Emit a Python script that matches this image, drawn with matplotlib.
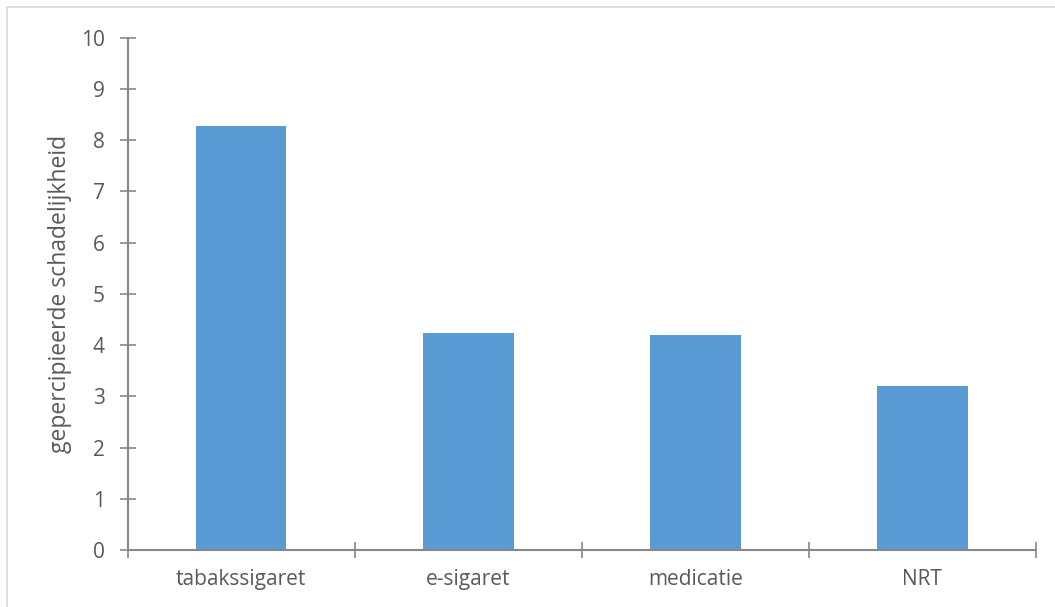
import matplotlib.pyplot as plt
from matplotlib.patches import Rectangle

categories = ['tabakssigaret', 'e-sigaret', 'medicatie', 'NRT']
values = [8.28, 4.23, 4.19, 3.21]
yticks = [0, 1, 2, 3, 4, 5, 6, 7, 8, 9, 10]

BAR = '#5b9bd5'
AXIS = '#878787'
TEXT = '#595959'

plt.rcParams['font.family'] = 'Open Sans'

fig = plt.figure(figsize=(10.55, 6.07), dpi=100)
ax = fig.add_axes([127.5 / 1055, 1 - 550 / 607, (1036 - 127.5) / 1055, (550 - 37.7) / 607])

x = list(range(len(categories)))
ax.bar(x, values, width=0.4, color=BAR, zorder=2)

ax.set_xlim(-0.5, len(categories) - 0.5)
ax.set_ylim(0, 10)
ax.set_yticks(yticks)
ax.set_yticklabels([str(t) for t in yticks])

# category boundaries get the tick marks, names sit between them
ax.set_xticks([i - 0.5 for i in range(len(categories) + 1)])
ax.set_xticklabels([])
ax.set_xticks(x, minor=True)
ax.set_xticklabels(categories, minor=True)

for s in ['top', 'right']:
    ax.spines[s].set_visible(False)
for s in ['left', 'bottom']:
    ax.spines[s].set_color(AXIS)
    ax.spines[s].set_linewidth(1.5)

ax.tick_params(axis='both', which='major', direction='inout', length=11, width=1.2, color=AXIS,
               labelsize=15, labelcolor=TEXT)
ax.tick_params(axis='y', pad=11)
ax.tick_params(axis='x', which='minor', length=0, pad=14, labelsize=15, labelcolor=TEXT)

ax.set_ylabel('gepercipieerde schadelijkheid', fontsize=16.5, color=TEXT, labelpad=6)

fig.patches.append(Rectangle((7 / 1055, -0.1), 1.2, 1 - 7 / 607 + 0.1, transform=fig.transFigure,
                             fill=False, edgecolor='#d9d9d9', linewidth=1.2))

fig.savefig('out.png', dpi=100)
